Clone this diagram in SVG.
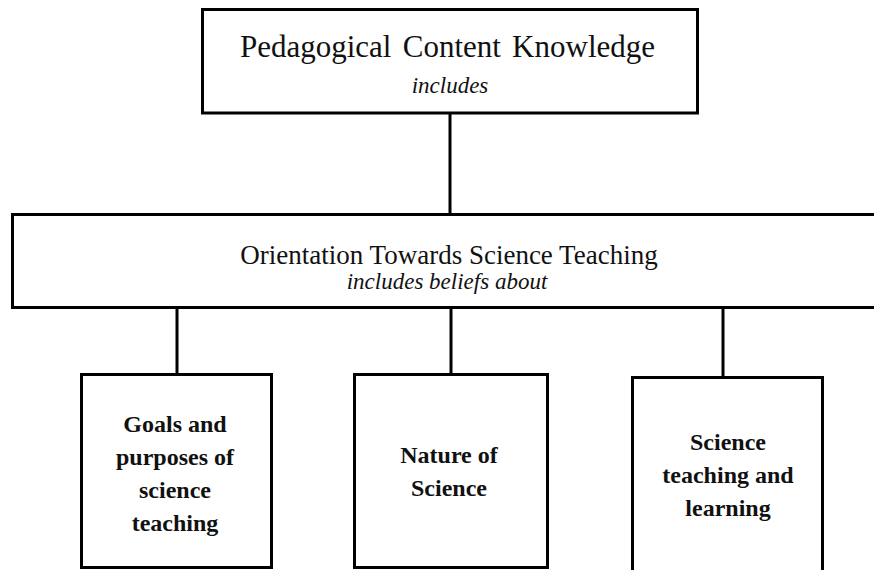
<svg xmlns="http://www.w3.org/2000/svg" width="874" height="570" viewBox="0 0 874 570">
  <style>
    .box { fill: #ffffff; stroke: #000000; stroke-width: 3; }
    .conn { stroke: #000000; stroke-width: 3; fill: none; }
    .t { font-family: "Liberation Serif", "Times New Roman", serif; fill: #111111; text-anchor: middle; }
    .title { font-size: 31px; }
    .mid { font-size: 27px; }
    .it { font-style: italic; font-size: 23px; }
    .b { font-weight: bold; font-size: 24px; }
  </style>
  <rect width="874" height="570" fill="#ffffff"/>
  <g id="connectors">
    <line class="conn" x1="450" y1="113" x2="450" y2="214"/>
    <line class="conn" x1="177" y1="308" x2="177" y2="374"/>
    <line class="conn" x1="451" y1="308" x2="451" y2="374"/>
    <line class="conn" x1="723" y1="308" x2="723" y2="377"/>
  </g>
  <g id="pck">
    <rect class="box" x="202.5" y="9.5" width="495" height="103.5"/>
    <text class="t title" x="447.5" y="57" word-spacing="3.5">Pedagogical Content Knowledge</text>
    <text class="t it" x="450" y="93">includes</text>
  </g>
  <g id="orientation">
    <rect class="box" x="12.5" y="214.5" width="880" height="93"/>
    <text class="t mid" x="449" y="264">Orientation Towards Science Teaching</text>
    <text class="t it" x="447" y="289">includes beliefs about</text>
  </g>
  <g id="goals">
    <rect class="box" x="81.5" y="374.5" width="190" height="193"/>
    <text class="t b" x="175" y="432">Goals and</text>
    <text class="t b" x="175" y="465">purposes of</text>
    <text class="t b" x="175" y="498">science</text>
    <text class="t b" x="175" y="531">teaching</text>
  </g>
  <g id="nature">
    <rect class="box" x="354.5" y="374.5" width="193" height="193"/>
    <text class="t b" x="449" y="463">Nature of</text>
    <text class="t b" x="449" y="496">Science</text>
  </g>
  <g id="teaching">
    <rect class="box" x="632.5" y="377.5" width="190" height="210"/>
    <text class="t b" x="728" y="450">Science</text>
    <text class="t b" x="728" y="483">teaching and</text>
    <text class="t b" x="728" y="516">learning</text>
  </g>
</svg>
